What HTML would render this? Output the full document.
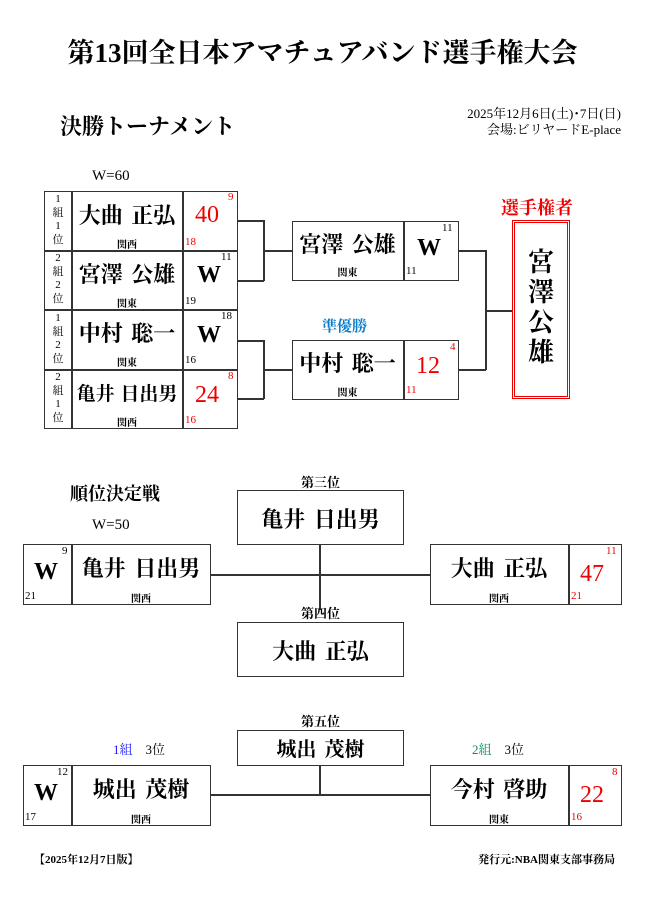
<!DOCTYPE html>
<html><head><meta charset="utf-8"><style>
body{margin:0;width:645px;height:912px;background:#fff;position:relative;overflow:hidden;font-family:"Liberation Serif","Noto Serif CJK JP","Noto Serif CJK SC",serif;color:#000}
div{position:absolute;box-sizing:border-box}
.b{border:1.5px solid #333;background:#fff}
.t{white-space:nowrap}
.c{text-align:center}
.nm{font-weight:bold;font-size:22px;text-align:center;white-space:nowrap;word-spacing:3px}
.sm{font-size:10px;font-weight:bold;text-align:center}
.n{font-size:11px}
.r{color:#e00}
.l{background:#333}
.w{font-size:24px;font-weight:bold}
.s{font-size:24px}
</style></head><body>
<div class="t" style="left:0;width:645px;top:31px;text-align:center;font-size:27px;font-weight:bold">第13回全日本アマチュアバンド選手権大会</div>
<div class="t" style="left:60px;top:110px;font-size:22px;font-weight:bold">決勝トーナメント</div>
<div class="t" style="right:24px;top:106px;font-size:13px;text-align:right;line-height:16px">2025年12月6日(土)･7日(日)<br>会場:ビリヤードE-place</div>
<div class="t" style="left:92px;top:168px;font-size:15px">W=60</div>

<div class="b" style="left:44px;top:191px;width:194px;height:238px"></div>
<div class="l" style="left:71px;top:191px;width:1.5px;height:238px"></div>
<div class="l" style="left:182px;top:191px;width:1.5px;height:238px"></div>
<div class="l" style="left:44px;top:250px;width:194px;height:1.5px"></div>
<div class="l" style="left:44px;top:309px;width:194px;height:1.5px"></div>
<div class="l" style="left:44px;top:369px;width:194px;height:1.5px"></div>

<div class="c" style="left:44px;top:193px;width:28px;font-size:11px;line-height:13.5px">1<br>組<br>1<br>位</div>
<div class="c" style="left:44px;top:252px;width:28px;font-size:11px;line-height:13.5px">2<br>組<br>2<br>位</div>
<div class="c" style="left:44px;top:312px;width:28px;font-size:11px;line-height:13.5px">1<br>組<br>2<br>位</div>
<div class="c" style="left:44px;top:371px;width:28px;font-size:11px;line-height:13.5px">2<br>組<br>1<br>位</div>

<div class="nm" style="left:72px;top:199px;width:110px">大曲 正弘</div>
<div class="sm" style="left:72px;top:236px;width:110px">関西</div>
<div class="nm" style="left:72px;top:258px;width:110px">宮澤 公雄</div>
<div class="sm" style="left:72px;top:295px;width:110px">関東</div>
<div class="nm" style="left:72px;top:317px;width:110px">中村 聡一</div>
<div class="sm" style="left:72px;top:354px;width:110px">関東</div>
<div class="nm" style="left:72px;top:379px;width:110px;font-size:19px;word-spacing:1px">亀井 日出男</div>
<div class="sm" style="left:72px;top:414px;width:110px">関西</div>

<div class="r t s" style="left:195px;top:202px">40</div>
<div class="r n" style="left:228px;top:191px">9</div>
<div class="r n" style="left:185px;top:236px">18</div>
<div class="t w" style="left:197px;top:262px">W</div>
<div class="n" style="left:221px;top:251px">11</div>
<div class="n" style="left:185px;top:295px">19</div>
<div class="t w" style="left:197px;top:322px">W</div>
<div class="n" style="left:221px;top:310px">18</div>
<div class="n" style="left:185px;top:354px">16</div>
<div class="r t s" style="left:195px;top:382px">24</div>
<div class="r n" style="left:228px;top:370px">8</div>
<div class="r n" style="left:185px;top:414px">16</div>

<div class="l" style="left:237px;top:220px;width:27px;height:1.5px"></div>
<div class="l" style="left:237px;top:280px;width:27px;height:1.5px"></div>
<div class="l" style="left:263px;top:220px;width:1.5px;height:61px"></div>
<div class="l" style="left:263px;top:250px;width:30px;height:1.5px"></div>
<div class="l" style="left:237px;top:340px;width:27px;height:1.5px"></div>
<div class="l" style="left:237px;top:398px;width:27px;height:1.5px"></div>
<div class="l" style="left:263px;top:340px;width:1.5px;height:59px"></div>
<div class="l" style="left:263px;top:369px;width:30px;height:1.5px"></div>

<div class="b" style="left:292px;top:221px;width:167px;height:60px"></div>
<div class="l" style="left:403px;top:221px;width:1.5px;height:60px"></div>
<div class="nm" style="left:292px;top:228px;width:111px">宮澤 公雄</div>
<div class="sm" style="left:292px;top:264px;width:111px">関東</div>
<div class="t w" style="left:417px;top:235px">W</div>
<div class="n" style="left:442px;top:222px">11</div>
<div class="n" style="left:406px;top:265px">11</div>

<div class="t" style="left:322px;top:315px;font-size:15px;font-weight:bold;color:#0a7cc8">準優勝</div>
<div class="b" style="left:292px;top:340px;width:167px;height:60px"></div>
<div class="l" style="left:403px;top:340px;width:1.5px;height:60px"></div>
<div class="nm" style="left:292px;top:347px;width:111px">中村 聡一</div>
<div class="sm" style="left:292px;top:384px;width:111px">関東</div>
<div class="r t s" style="left:416px;top:353px">12</div>
<div class="r n" style="left:450px;top:341px">4</div>
<div class="r n" style="left:406px;top:384px">11</div>

<div class="l" style="left:458px;top:250px;width:28px;height:1.5px"></div>
<div class="l" style="left:458px;top:369px;width:28px;height:1.5px"></div>
<div class="l" style="left:485px;top:250px;width:1.5px;height:120px"></div>
<div class="l" style="left:485px;top:310px;width:28px;height:1.5px"></div>

<div class="t" style="left:501px;top:194px;font-size:18px;font-weight:bold;color:#e00">選手権者</div>
<div style="left:512px;top:220px;width:58px;height:179px;border:3px double #e00"></div>
<div class="c" style="left:512px;top:248px;width:58px;font-size:26px;font-weight:bold;line-height:30px">宮<br>澤<br>公<br>雄</div>

<div class="t" style="left:70px;top:480px;font-size:18px;font-weight:bold">順位決定戦</div>
<div class="t" style="left:92px;top:517px;font-size:15px">W=50</div>
<div class="t c" style="left:237px;top:472px;width:167px;font-size:13px;font-weight:bold">第三位</div>
<div class="b" style="left:237px;top:490px;width:167px;height:55px"></div>
<div class="nm" style="left:237px;top:503px;width:167px">亀井 日出男</div>

<div class="b" style="left:23px;top:544px;width:188px;height:61px"></div>
<div class="l" style="left:71px;top:544px;width:1.5px;height:61px"></div>
<div class="t w" style="left:34px;top:559px">W</div>
<div class="n" style="left:62px;top:545px">9</div>
<div class="n" style="left:25px;top:590px">21</div>
<div class="nm" style="left:72px;top:552px;width:138px">亀井 日出男</div>
<div class="sm" style="left:72px;top:590px;width:138px">関西</div>

<div class="l" style="left:210px;top:574px;width:221px;height:1.5px"></div>
<div class="l" style="left:319px;top:544px;width:1.5px;height:66px"></div>

<div class="b" style="left:430px;top:544px;width:192px;height:61px"></div>
<div class="l" style="left:568px;top:544px;width:1.5px;height:61px"></div>
<div class="nm" style="left:430px;top:552px;width:138px">大曲 正弘</div>
<div class="sm" style="left:430px;top:590px;width:138px">関西</div>
<div class="r t s" style="left:580px;top:561px">47</div>
<div class="r n" style="left:606px;top:545px">11</div>
<div class="r n" style="left:571px;top:590px">21</div>

<div class="t c" style="left:237px;top:603px;width:167px;font-size:13px;font-weight:bold">第四位</div>
<div class="b" style="left:237px;top:622px;width:167px;height:55px"></div>
<div class="nm" style="left:237px;top:635px;width:167px">大曲 正弘</div>

<div class="t c" style="left:237px;top:711px;width:167px;font-size:13px;font-weight:bold">第五位</div>
<div class="b" style="left:237px;top:730px;width:167px;height:36px"></div>
<div class="nm" style="left:237px;top:733px;width:167px;font-size:20px">城出 茂樹</div>

<div class="t" style="left:113px;top:739px;font-size:13px"><span style="color:#1a1aff">1組</span>　3位</div>
<div class="t" style="left:472px;top:739px;font-size:13px"><span style="color:#0a8a5a">2組</span>　3位</div>

<div class="b" style="left:23px;top:765px;width:188px;height:61px"></div>
<div class="l" style="left:71px;top:765px;width:1.5px;height:61px"></div>
<div class="t w" style="left:34px;top:780px">W</div>
<div class="n" style="left:57px;top:766px">12</div>
<div class="n" style="left:25px;top:811px">17</div>
<div class="nm" style="left:72px;top:773px;width:138px">城出 茂樹</div>
<div class="sm" style="left:72px;top:811px;width:138px">関西</div>

<div class="l" style="left:210px;top:794px;width:221px;height:1.5px"></div>
<div class="l" style="left:319px;top:765px;width:1.5px;height:30px"></div>

<div class="b" style="left:430px;top:765px;width:192px;height:61px"></div>
<div class="l" style="left:568px;top:765px;width:1.5px;height:61px"></div>
<div class="nm" style="left:430px;top:773px;width:138px">今村 啓助</div>
<div class="sm" style="left:430px;top:811px;width:138px">関東</div>
<div class="r t s" style="left:580px;top:782px">22</div>
<div class="r n" style="left:612px;top:766px">8</div>
<div class="r n" style="left:571px;top:811px">16</div>

<div class="t" style="left:34px;top:851px;font-size:11px;font-weight:bold">【2025年12月7日版】</div>
<div class="t" style="right:30px;top:851px;font-size:11px;font-weight:bold">発行元:NBA関東支部事務局</div>
</body></html>
